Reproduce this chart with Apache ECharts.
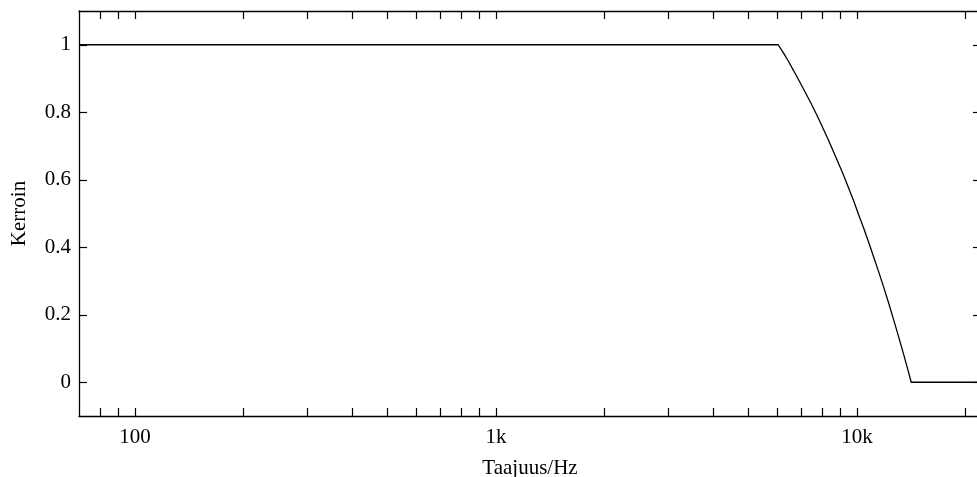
<!DOCTYPE html>
<html>
<head>
<meta charset="utf-8">
<script src="https://cdn.jsdelivr.net/npm/echarts@6/dist/echarts.min.js"></script>
<style>
html,body{margin:0;padding:0;background:#fff;}
#c{width:977px;height:477px;}
</style>
</head>
<body>
<div id="c"></div>
<script>
// Data
const freqHz = [70, 6050, 6254, 6457, 6660, 6883, 7420, 7744, 8080, 8339, 8990, 9180, 9580, 9786, 10100, 10431, 10890, 11482, 11860, 12240, 12640, 12915, 13470, 13768, 14130, 22050];
const gain   = [1, 1, 0.976, 0.951, 0.925, 0.897, 0.831, 0.791, 0.749, 0.717, 0.636, 0.613, 0.563, 0.538, 0.497, 0.457, 0.400, 0.327, 0.281, 0.234, 0.184, 0.150, 0.082, 0.045, 0, 0];
const xTickValues = [80, 90, 100, 200, 300, 400, 500, 600, 700, 800, 900, 1000, 2000, 3000, 4000, 5000, 6000, 7000, 8000, 9000, 10000, 20000];
const xLabelValues = [100, 1000, 10000];
const xLabelTexts = {100: '100', 1000: '1k', 10000: '10k'};
const yTickValues = [0, 0.2, 0.4, 0.6, 0.8, 1];
const xName = 'Taajuus/Hz';
const yName = 'Kerroin';

const FONT = 'Liberation Serif';
const FS = 21;
const chart = echarts.init(document.getElementById('c'));

function xAxisCfg(pos, showLabels) {
  return {
    type: 'log', logBase: 10, min: 70, max: 22050, position: pos,
    name: showLabels ? xName : '', nameLocation: 'middle', nameGap: 42,
    nameTextStyle: {fontFamily: FONT, fontSize: FS, color: '#000'},
    axisLine: {show: true, onZero: false, lineStyle: {color: '#000', width: 1.3}},
    axisTick: {show: true, inside: true, length: 8, customValues: xTickValues, lineStyle: {color: '#000', width: 1.2}},
    axisLabel: {show: showLabels, customValues: xLabelValues, margin: 11,
      fontFamily: FONT, fontSize: FS, color: '#000',
      formatter: v => xLabelTexts[Math.round(v)] || ''},
    splitLine: {show: false}, minorTick: {show: false}, minorSplitLine: {show: false}
  };
}
function yAxisCfg(pos, showLabels) {
  return {
    type: 'value', min: -0.1, max: 1.1, position: pos,
    name: showLabels ? yName : '', nameLocation: 'middle', nameGap: 49,
    nameTextStyle: {fontFamily: FONT, fontSize: FS, color: '#000'},
    axisLine: {show: true, onZero: false, lineStyle: {color: '#000', width: 1.3}},
    axisTick: {show: true, inside: true, length: 8, customValues: yTickValues, lineStyle: {color: '#000', width: 1.2}},
    axisLabel: {show: showLabels, customValues: yTickValues, margin: 8,
      fontFamily: FONT, fontSize: FS, color: '#000',
      formatter: v => String(Math.round(v * 10) / 10)},
    splitLine: {show: false}
  };
}

chart.setOption({
  animation: false,
  backgroundColor: '#fff',
  grid: {left: 79, top: 11, width: 902, height: 405, containLabel: false, outerBoundsMode: 'none'},
  xAxis: [xAxisCfg('bottom', true), xAxisCfg('top', false)],
  yAxis: [yAxisCfg('left', true), yAxisCfg('right', false)],
  series: [{
    type: 'line',
    xAxisIndex: 0, yAxisIndex: 0,
    data: freqHz.map((f, i) => [f, gain[i]]),
    showSymbol: false, symbol: 'none',
    lineStyle: {color: '#000', width: 1.3},
    clip: true
  }]
});
</script>
</body>
</html>
